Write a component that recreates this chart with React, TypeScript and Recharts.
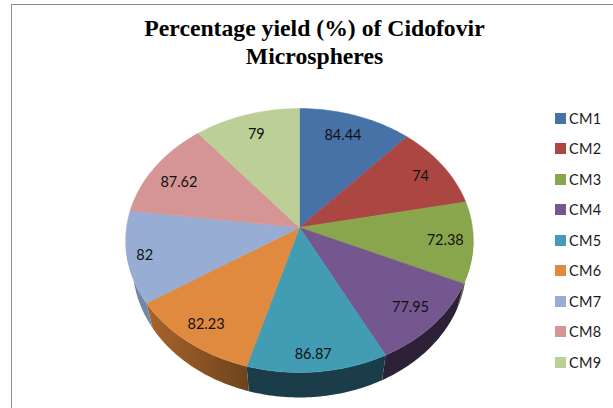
import React from "react";
import { PieChart, Pie, Legend } from "recharts";

const categories = ["CM1", "CM2", "CM3", "CM4", "CM5", "CM6", "CM7", "CM8", "CM9"];
const yields = [84.44, 74, 72.38, 77.95, 86.87, 82.23, 82, 87.62, 79];
const colors = ["#4672a8", "#ac4643", "#8aa64d", "#74578f", "#429cb3", "#e08a3f", "#97add3", "#d59595", "#bccf97"];
const wallColors = ["#3a5a85", "#7e322f", "#4f6a27", "#2e2137", "#1b3c49", "url(#wallOrange)", "#7388a8", "#a06c6c", "#8ea06c"];
const labelRadii = [0.79, 0.84, 0.84, 0.83, 0.87, 0.84, 0.9, 0.83, 0.82];
const labelNudgeX = [-2, 0, 0, 1, -2, -1, 0, 0, 1];
const labelNudgeY = [-3, 0, 0, 0, 2, 1, 0, 5, 0];

const table = categories.map((name, i) => ({ name, value: yields[i], fill: colors[i] }));

const FONT = "Lato, 'Open Sans', sans-serif";
const PERSPECTIVE = 0.0985;
const X_SCALE = 0.994;
const Y_SCALE = 0.751;
const DEPTH = 25;
const LOWER_RIM_SCALE = 0.96;

// Tilted-disc projection of a point given in polar form (math degrees, r in 0..1).
function project(cx: number, cy: number, R: number, deg: number, r = 1) {
  const a = (deg * Math.PI) / 180;
  const u = r * Math.cos(a);
  const v = -r * Math.sin(a);
  const k = 1 - PERSPECTIVE * v;
  return { x: cx + (R * X_SCALE * u) / k, y: cy + (R * Y_SCALE * v) / k };
}

function arcPoints(cx: number, cy: number, R: number, start: number, end: number) {
  const n = Math.max(2, Math.ceil(Math.abs(end - start)));
  const pts = [];
  for (let i = 0; i <= n; i++) pts.push(project(cx, cy, R, start + ((end - start) * i) / n));
  return pts;
}

function TiltedSector(props: any) {
  const { cx, cy, outerRadius, startAngle, endAngle, fill } = props;
  const pts = arcPoints(cx, cy, outerRadius, startAngle, endAngle);
  const midY = cy + (outerRadius * Y_SCALE * PERSPECTIVE) / (1 - PERSPECTIVE * PERSPECTIVE);
  const lower = pts.filter((p) => p.y >= midY);
  const top = `M${cx},${cy} ` + pts.map((p) => `L${p.x},${p.y}`).join(" ") + " Z";
  const wallFill = wallColors[colors.indexOf(fill)];
  const wall =
    lower.length > 1
      ? lower.map((p, i) => `${i ? "L" : "M"}${p.x},${p.y}`).join(" ") +
        " " +
        [...lower]
          .reverse()
          .map((p) => `L${cx + (p.x - cx) * LOWER_RIM_SCALE},${p.y + DEPTH}`)
          .join(" ") +
        " Z"
      : null;
  return (
    <g>
      <defs>
        <linearGradient id="wallOrange" x1="1" y1="0" x2="0" y2="0">
          <stop offset="0" stopColor="#6e431d" />
          <stop offset="1" stopColor="#a9642c" />
        </linearGradient>
      </defs>
      {wall && <path d={wall} fill={wallFill} stroke="none" />}
      <path d={top} fill={fill} stroke={fill} strokeWidth={0.5} />
    </g>
  );
}

function renderLabel(props: any) {
  const { cx, cy, outerRadius, midAngle, index, value } = props;
  const p = project(cx, cy, outerRadius, midAngle, labelRadii[index]);
  return (
    <text
      x={p.x + labelNudgeX[index]}
      y={p.y + labelNudgeY[index]}
      textAnchor="middle"
      dominantBaseline="central"
      fontFamily={FONT}
      fontSize={14.5}
      fill="#111"
    >
      {value}
    </text>
  );
}

function LegendList() {
  return (
    <div style={{ fontFamily: FONT, fontSize: 14.5, color: "#1a1a1a" }}>
      {table.map((d) => (
        <div key={d.name} style={{ display: "flex", alignItems: "center", height: 30.5 }}>
          <span style={{ width: 11, height: 11, background: d.fill, marginRight: 3, display: "block" }} />
          <span style={{ letterSpacing: 0.3 }}>{d.name}</span>
        </div>
      ))}
    </div>
  );
}

export default function App() {
  return (
    <div style={{ position: "absolute", left: 0, top: 0, width: 613, height: 408, overflow: "hidden", background: "#fff" }}>
      <div
        style={{
          position: "absolute",
          left: 11,
          top: 4,
          width: 700,
          height: 500,
          borderTop: "1.5px solid #8e8e8e",
          borderLeft: "1.5px solid #8e8e8e",
        }}
      />
      <div
        style={{
          position: "absolute",
          left: 14.5,
          top: 14,
          width: 600,
          textAlign: "center",
          fontFamily: "'Liberation Serif', serif",
          fontWeight: 700,
          fontSize: 23.7,
          lineHeight: "28px",
          color: "#000",
        }}
      >
        Percentage yield (%) of Cidofovir
        <br />
        Microspheres
      </div>
      <div style={{ position: "absolute", left: 0, top: 0 }}>
        <PieChart width={613} height={408} margin={{ top: 0, right: 0, bottom: 0, left: 0 }}>
          <Pie
            data={table}
            dataKey="value"
            nameKey="name"
            cx={299.5}
            cy={227.5}
            outerRadius={174}
            startAngle={90}
            endAngle={-270}
            stroke="none"
            isAnimationActive={false}
            shape={TiltedSector}
            label={renderLabel}
            labelLine={false}
          />
          <Legend
            layout="vertical"
            align="right"
            verticalAlign="top"
            content={() => <LegendList />}
            wrapperStyle={{ position: "absolute", left: 555, top: 103, width: 58 }}
          />
        </PieChart>
      </div>
    </div>
  );
}
